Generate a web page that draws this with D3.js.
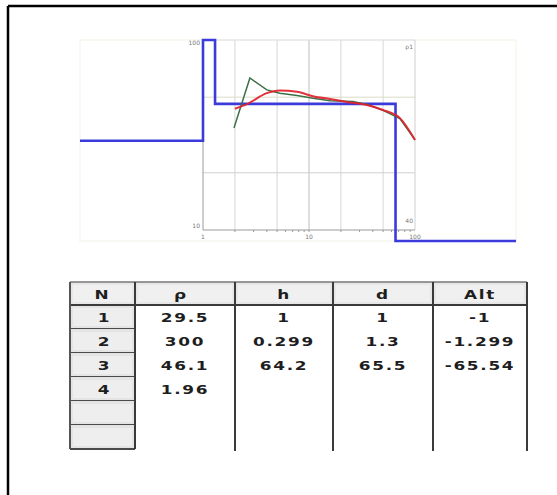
<!DOCTYPE html>
<html>
<head>
<meta charset="utf-8">
<script src="https://cdn.jsdelivr.net/npm/d3@7"></script>
<style>
  body { margin: 0; background: #fff; }
  svg { display: block; }
</style>
</head>
<body>
<svg id="ves" width="557" height="495"></svg>
<script>
// layer model (table)
var layerN = [1, 2, 3, 4];
var layerRho = [29.5, 300, 46.1, 1.96];
var layerH = [1, 0.299, 64.2];
var layerD = [1, 1.3, 65.5];
var layerAlt = [-1, -1.299, -65.54];
var headers = ['N', 'ρ', 'h', 'd', 'Alt'];
var emptyRows = 2;

// field curve (green) and calculated curve (red): AB/2 vs apparent resistivity
var fieldAB = [1.96, 2.77, 4.0, 5.3, 7.7, 10.9, 15.8, 26, 36, 50, 72, 100];
var fieldRho = [34.4, 63.1, 54.6, 52.4, 51.0, 49.4, 47.9, 47.4, 45.6, 42.6, 38.6, 29.8];
var calcAB = [2.0, 2.6, 4.0, 5.3, 7.7, 10.9, 15.8, 22.8, 35.3, 49.9, 72.1, 100];
var calcRho = [43.5, 46.0, 52.5, 54.2, 53.4, 50.6, 48.9, 47.2, 45.5, 42.8, 38.8, 29.8];

// axis ticks
var xLabels = [1, 10, 100];
var xGrid = [2, 5, 10, 20, 50];
var xMinor = [3, 4, 6, 7, 8, 9, 30, 40, 60, 70, 80, 90];
var yGrid = [20, 50];

var svg = d3.select('#ves');

// outer frame (only top and left edges fall inside the picture)
svg.append('line').attr('x1', 8).attr('y1', 6).attr('x2', 557).attr('y2', 6)
  .style('stroke', '#000').style('stroke-width', 2.5);
svg.append('line').attr('x1', 8).attr('y1', 6).attr('x2', 8).attr('y2', 495)
  .style('stroke', '#000').style('stroke-width', 2.5);

var plot = {left: 203, right: 415, top: 40, bottom: 230};
var panel = {left: 80, right: 516, top: 40, bottom: 241};

var x = d3.scaleLog().domain([1, 100]).range([plot.left, plot.right]);
var y = d3.scaleLog().domain([10, 100]).range([plot.bottom, plot.top]);

// faint panel box
svg.append('rect')
  .attr('x', panel.left).attr('y', panel.top)
  .attr('width', panel.right - panel.left).attr('height', panel.bottom - panel.top)
  .style('fill', 'none').style('stroke', '#f7f7f0').style('stroke-width', 1.5);

var g = svg.append('g');

// grid
g.selectAll('.vgrid').data(xGrid).enter().append('line')
  .attr('x1', function(d) { return x(d); }).attr('x2', function(d) { return x(d); })
  .attr('y1', plot.top).attr('y2', plot.bottom)
  .style('stroke', function(d) { return d === 10 ? '#bcbcbc' : '#d6d6d6'; })
  .style('stroke-width', 1);
g.selectAll('.hgrid').data(yGrid).enter().append('line')
  .attr('x1', plot.left).attr('x2', plot.right)
  .attr('y1', function(d) { return y(d); }).attr('y2', function(d) { return y(d); })
  .style('stroke', function(d) { return d === 50 ? '#dcdcc8' : '#cfcfcf'; })
  .style('stroke-width', 1);

// frame of the plot
g.append('line').attr('x1', plot.left).attr('x2', plot.right).attr('y1', plot.top).attr('y2', plot.top)
  .style('stroke', '#dedede');
g.append('line').attr('x1', plot.right).attr('x2', plot.right).attr('y1', plot.top).attr('y2', plot.bottom)
  .style('stroke', '#cfcfcf');
g.append('line').attr('x1', plot.left).attr('x2', plot.left).attr('y1', plot.top).attr('y2', plot.bottom)
  .style('stroke', '#9a9a9a');
g.append('line').attr('x1', plot.left).attr('x2', plot.right).attr('y1', plot.bottom).attr('y2', plot.bottom)
  .style('stroke', '#9a9a9a');

// minor ticks on bottom axis
g.selectAll('.minor').data(xMinor.concat(xGrid)).enter().append('line')
  .attr('x1', function(d) { return x(d); }).attr('x2', function(d) { return x(d); })
  .attr('y1', plot.bottom).attr('y2', plot.bottom + 2)
  .style('stroke', '#999');

// tiny labels
var small = {'font-family': 'DejaVu Sans, sans-serif', 'font-size': '6px', 'fill': '#777'};
function styleSmall(sel) { for (var k in small) sel.style(k, small[k]); return sel; }
styleSmall(g.selectAll('.xl').data(xLabels).enter().append('text')
  .attr('x', function(d) { return x(d); }).attr('y', plot.bottom + 9)
  .attr('text-anchor', 'middle').text(function(d) { return d; }));
styleSmall(g.append('text').attr('x', plot.left - 3).attr('y', y(100) + 5)
  .attr('text-anchor', 'end').text('100'));
styleSmall(g.append('text').attr('x', plot.left - 3).attr('y', y(10) - 2)
  .attr('text-anchor', 'end').text('10'));
styleSmall(g.append('text').attr('x', plot.right - 2).attr('y', plot.top + 9)
  .attr('text-anchor', 'end').text('ρ1'));
styleSmall(g.append('text').attr('x', plot.right - 2).attr('y', plot.bottom - 7)
  .attr('text-anchor', 'end').text('40'));

// layer model as a step line, clamped to the panel
var depths = d3.cumsum(layerH);
var xMin = x.invert(panel.left), xMax = x.invert(panel.right);
var model = [{ab: xMin, rho: layerRho[0]}];
depths.forEach(function(dp, i) { model.push({ab: dp, rho: layerRho[i + 1]}); });
model.push({ab: xMax, rho: layerRho[layerRho.length - 1]});

function clampY(v) { return Math.max(panel.top, Math.min(panel.bottom, v)); }
var stepLine = d3.line()
  .x(function(d) { return x(d.ab); })
  .y(function(d) { return clampY(y(d.rho)); })
  .curve(d3.curveStepAfter);

var fieldData = fieldAB.map(function(a, i) { return {ab: a, rho: fieldRho[i]}; });
var calcData = calcAB.map(function(a, i) { return {ab: a, rho: calcRho[i]}; });
var curve = d3.line()
  .x(function(d) { return x(d.ab); })
  .y(function(d) { return y(d.rho); });

g.append('path').datum(model).attr('d', stepLine)
  .style('fill', 'none').style('stroke', '#3b3bdc').style('stroke-width', 2.6);

g.append('path').datum(fieldData).attr('d', curve)
  .style('fill', 'none').style('stroke', '#3f6f48').style('stroke-width', 1.5);

g.append('path').datum(calcData).attr('d', curve.curve(d3.curveMonotoneX))
  .style('fill', 'none').style('stroke', '#e0202a').style('stroke-width', 2)
  .style('stroke-opacity', 0.92);

// ---------------- table ----------------
var cols = [70, 135, 235, 333, 433, 527];
var headTop = 282, headH = 23, rowH = 24;
var nRows = layerN.length + emptyRows;
var tableBottom = headTop + headH + nRows * rowH;

var t = svg.append('g');

// header cells
headers.forEach(function(h, i) {
  t.append('rect').attr('x', cols[i]).attr('y', headTop)
    .attr('width', cols[i + 1] - cols[i]).attr('height', headH)
    .style('fill', '#e7e7e7');
  t.append('rect').attr('x', cols[i] + 3).attr('y', headTop + 3)
    .attr('width', cols[i + 1] - cols[i] - 6).attr('height', headH - 6)
    .style('fill', '#f0f0f0');
});

// N column cells
d3.range(nRows).forEach(function(r) {
  var yy = headTop + headH + r * rowH;
  t.append('rect').attr('x', cols[0]).attr('y', yy)
    .attr('width', cols[1] - cols[0]).attr('height', rowH)
    .style('fill', '#e4e4e4');
  t.append('rect').attr('x', cols[0] + 3).attr('y', yy + 3)
    .attr('width', cols[1] - cols[0] - 6).attr('height', rowH - 6)
    .style('fill', '#eeeeee');
  t.append('line').attr('x1', cols[0]).attr('x2', cols[1])
    .attr('y1', yy + rowH).attr('y2', yy + rowH)
    .style('stroke', '#4a4a4a').style('stroke-width', 2);
});

// header lines
t.append('line').attr('x1', cols[0]).attr('x2', cols[5]).attr('y1', headTop).attr('y2', headTop)
  .style('stroke', '#777').style('stroke-width', 1.5);
t.append('line').attr('x1', cols[0]).attr('x2', cols[5]).attr('y1', headTop + headH).attr('y2', headTop + headH)
  .style('stroke', '#3a3a3a').style('stroke-width', 2);

// column separators
cols.forEach(function(cx, i) {
  t.append('line').attr('x1', cx).attr('x2', cx)
    .attr('y1', headTop).attr('y2', i === 0 || i === 1 ? tableBottom : tableBottom + 2)
    .style('stroke', i === 0 ? '#555' : '#3a3a3a').style('stroke-width', 2);
});

function cellText(cx, cy, s) {
  t.append('text')
    .attr('transform', 'translate(' + cx + ',' + cy + ') scale(1.3,1)')
    .attr('text-anchor', 'middle')
    .style('font-family', 'DejaVu Sans, sans-serif')
    .style('font-weight', 'bold')
    .style('font-size', '13px')
    .style('letter-spacing', '1.3px')
    .style('fill', '#1e1e1e')
    .text(s);
}

var centers = cols.slice(0, 5).map(function(c, i) { return (c + cols[i + 1]) / 2; });
headers.forEach(function(h, i) { cellText(centers[i] + (i === 1 ? -4 : 0), headTop + headH - 6, h); });

var columns = [layerN, layerRho, layerH, layerD, layerAlt];
columns.forEach(function(arr, c) {
  arr.forEach(function(v, r) {
    cellText(centers[c] + (c === 0 ? 2 : 0), headTop + headH + r * rowH + rowH - 7, String(v));
  });
});
</script>
</body>
</html>
